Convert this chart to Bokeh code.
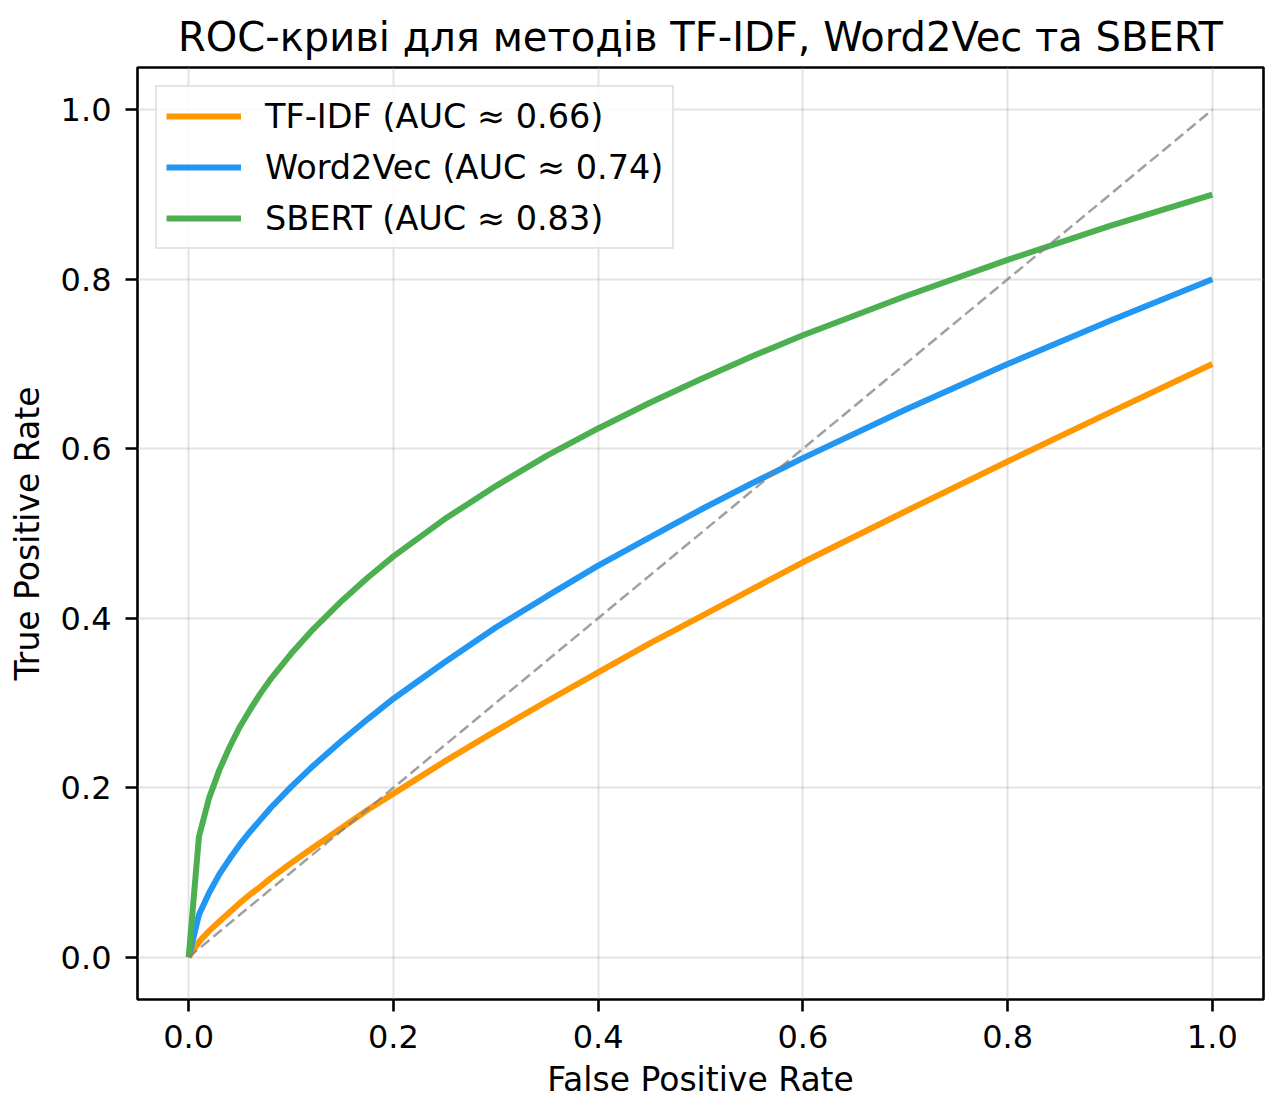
from bokeh.plotting import figure
from bokeh.models import FixedTicker, Legend, LegendItem
from bokeh.embed import file_html
from bokeh.resources import INLINE

# ---- data ----
fpr = [0.0, 0.01, 0.02, 0.03, 0.04, 0.05, 0.06, 0.07, 0.08, 0.10, 0.12, 0.15,
       0.175, 0.20, 0.25, 0.30, 0.35, 0.40, 0.45, 0.50, 0.55, 0.60, 0.70, 0.80,
       0.90, 1.00]
tpr_tfidf = [0.0, 0.018, 0.031, 0.042, 0.053, 0.064, 0.074, 0.083, 0.093, 0.111,
             0.128, 0.153, 0.174, 0.193, 0.231, 0.267, 0.302, 0.336, 0.370,
             0.402, 0.434, 0.466, 0.526, 0.585, 0.643, 0.700]
tpr_w2v = [0.0, 0.050, 0.076, 0.098, 0.116, 0.133, 0.148, 0.162, 0.176, 0.201,
           0.224, 0.256, 0.281, 0.305, 0.348, 0.389, 0.426, 0.462, 0.495,
           0.528, 0.559, 0.589, 0.646, 0.700, 0.751, 0.800]
tpr_sbert = [0.0, 0.142, 0.188, 0.221, 0.248, 0.272, 0.292, 0.311, 0.328, 0.358,
             0.385, 0.421, 0.448, 0.473, 0.517, 0.556, 0.592, 0.624, 0.654,
             0.682, 0.709, 0.734, 0.780, 0.823, 0.863, 0.900]
diag = [0.0, 1.0]

series_names = ["TF-IDF (AUC ≈ 0.66)", "Word2Vec (AUC ≈ 0.74)", "SBERT (AUC ≈ 0.83)"]
series_colors = ["#FF9800", "#2196F3", "#4CAF50"]
ticks = [0.0, 0.2, 0.4, 0.6, 0.8, 1.0]
tick_labels = ["0.0", "0.2", "0.4", "0.6", "0.8", "1.0"]

title = "ROC-криві для методів TF-IDF, Word2Vec та SBERT"
xlabel = "False Positive Rate"
ylabel = "True Positive Rate"

FONT = "DejaVu Sans"

p = figure(
    output_backend="svg", toolbar_location=None,
    frame_width=1126, frame_height=932,
    x_range=(-0.05, 1.05), y_range=(-0.05, 1.05),
    min_border_left=137, min_border_top=67, min_border_right=2, min_border_bottom=10,
    background_fill_color="white", border_fill_color="white",
)

p.title.text = title
p.title.text_font = FONT
p.title.text_font_size = "40px"
p.title.text_font_style = "normal"
p.title.align = "center"
p.title.text_color = "black"
p.title.standoff = 15

p.outline_line_color = "black"
p.outline_line_width = 2.6
p.outline_line_alpha = 1.0

for ax in (p.xaxis[0], p.yaxis[0]):
    ax.ticker = FixedTicker(ticks=ticks)
    ax.major_label_overrides = {t: l for t, l in zip(ticks, tick_labels)}
    ax.axis_line_color = None
    ax.major_tick_out = 12
    ax.major_tick_in = 0
    ax.major_tick_line_width = 2.6
    ax.major_tick_line_color = "black"
    ax.minor_tick_line_color = None
    ax.major_label_text_font = FONT
    ax.major_label_text_font_size = "32px"
    ax.major_label_text_color = "black"
    ax.axis_label_text_font = FONT
    ax.axis_label_text_font_size = "33px"
    ax.axis_label_text_font_style = "normal"
    ax.axis_label_text_color = "black"

p.xaxis.axis_label = xlabel
p.yaxis.axis_label = ylabel
p.xaxis.major_label_standoff = 13
p.yaxis.major_label_standoff = 14
p.xaxis.axis_label_standoff = 9
p.yaxis.axis_label_standoff = 11

for g in (p.xgrid[0], p.ygrid[0]):
    g.ticker = FixedTicker(ticks=ticks)
    g.grid_line_color = "#b0b0b0"
    g.grid_line_alpha = 0.35
    g.grid_line_width = 2

curves = []
for ys, c in zip([tpr_tfidf, tpr_w2v, tpr_sbert], series_colors):
    r = p.line(fpr, ys, line_color=c, line_width=6)
    curves.append(r)

p.line(diag, diag, line_color="gray", line_alpha=0.75, line_width=2.5, line_dash="11 5")

legend = Legend(
    items=[LegendItem(label=n, renderers=[r]) for n, r in zip(series_names, curves)],
    location="top_left",
    margin=18,
    padding=9,
    spacing=11,
    glyph_width=75,
    glyph_height=40,
    label_height=40,
    label_standoff=24,
    label_text_font=FONT,
    label_text_font_size="33.5px",
    label_text_color="black",
    border_line_color="#cccccc",
    border_line_width=2,
    background_fill_color="white",
    background_fill_alpha=0.85,
)
p.add_layout(legend, "center")

open("out.html", "w").write(file_html(p, INLINE))
